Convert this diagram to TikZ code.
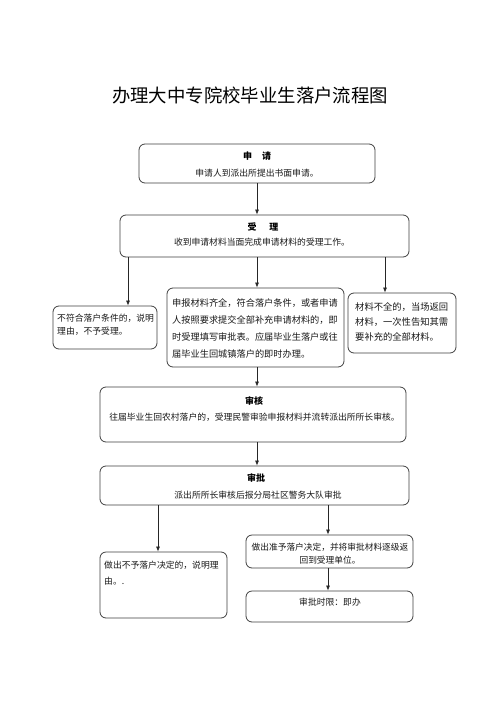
\documentclass[tikz,border=0pt]{standalone}
\usepackage{fontspec}
\setmainfont{Noto Sans CJK SC}
\usetikzlibrary{arrows.meta}
\begin{document}
\begin{tikzpicture}[x=1pt,y=-1pt,
  box/.style={draw=black!75, line width=0.8pt, rounded corners=6pt, inner sep=0pt, fill=white},
  arr/.style={draw=black!85, line width=0.7pt, -{Latex[length=5pt,width=4pt]}},
  txt/.style={inner sep=0pt, font=\fontsize{8.8}{14}\selectfont, text=black!90},
  ttl/.style={inner sep=0pt, font=\fontsize{9}{11}\selectfont\bfseries}]
\useasboundingbox[fill=white] (0,0) rectangle (500,707);

% title
\node[inner sep=0pt, font=\fontsize{18.4}{20}\selectfont] (title) at (250,95) {办理大中专院校毕业生落户流程图};

% boxes
\node[box, minimum width=236pt, minimum height=39pt] (sq) at (257,163.5) {};
\node[box, minimum width=289pt, minimum height=42pt] (sl) at (264.5,236) {};
\node[box, minimum width=104pt, minimum height=43pt] (lb) at (105,327.5) {};
\node[box, minimum width=177pt, minimum height=79pt] (mb) at (255.5,327.5) {};
\node[box, minimum width=108pt, minimum height=60pt] (rb) at (402,323) {};
\node[box, minimum width=306pt, minimum height=55pt] (sh) at (253,414.5) {};
\node[box, minimum width=309pt, minimum height=39pt] (sp) at (254.5,485.5) {};
\node[box, minimum width=127pt, minimum height=66pt] (bl) at (163.5,585) {};
\node[box, minimum width=167pt, minimum height=33pt] (br1) at (329.5,551.5) {};
\node[box, minimum width=167pt, minimum height=31pt] (br2) at (329.5,606.5) {};

% texts
\node[ttl] (sqT) at (257,156) {申\hspace{10pt}请};
\node[txt] (sqB) at (257,173) {申请人到派出所提出书面申请。};
\node[ttl] (slT) at (263,227) {受\hspace{13pt}理};
\node[txt] (slB) at (262,242) {收到申请材料当面完成申请材料的受理工作。};
\node[txt, anchor=north west, align=left, font=\fontsize{8.8}{13.5}\selectfont] (lbB) at (57,313.5) {不符合落户条件的，说明\\理由，不予受理。};
\node[txt, anchor=north west, align=left, font=\fontsize{9.2}{17}\selectfont] (mbB) at (172,298.5) {申报材料齐全，符合落户条件，或者申请\\人按照要求提交全部补充申请材料的，即\\时受理填写审批表。应届毕业生落户或往\\届毕业生回城镇落户的即时办理。};
\node[txt, anchor=north west, align=left, font=\fontsize{9.3}{15}\selectfont] (rbB) at (355,302) {材料不全的，当场返回\\材料，一次性告知其需\\要补充的全部材料。};
\node[ttl] (shT) at (254,401.5) {审核};
\node[txt] (shB) at (254.5,417) {往届毕业生回农村落户的，受理民警审验申报材料并流转派出所所长审核。};
\node[ttl] (spT) at (256,478) {审批};
\node[txt] (spB) at (258,495) {派出所所长审核后报分局社区警务大队审批};
\node[txt, anchor=north west, align=left, font=\fontsize{8.8}{16}\selectfont] (blB) at (104,560.5) {做出不予落户决定的，说明理\\由。.};
\node[txt, align=center, font=\fontsize{8.7}{13.5}\selectfont, anchor=north] (br1B) at (330,542.5) {做出准予落户决定，并将审批材料逐级返\\回到受理单位。};
\node[txt] (br2B) at (330,602) {审批时限：即办};

% connectors
\coordinate (c1) at (257,0);
\coordinate (cL) at (128,0);
\coordinate (cR) at (385,0);
\coordinate (cBL) at (158,0);
\coordinate (cBR) at (328,0);
\draw[arr] (sq.south -| c1) -- (sl.north -| c1);
\draw[arr] (sl.south -| cL) -- (lb.north -| cL);
\draw[arr] (sl.south -| c1) -- (mb.north -| c1);
\draw[arr] (sl.south -| cR) -- (rb.north -| cR);
\draw[arr] (mb.south -| c1) -- (sh.north -| c1);
\draw[arr] (sh.south -| c1) -- (sp.north -| c1);
\draw[arr] (sp.south -| cBL) -- (bl.north -| cBL);
\draw[arr] (sp.south -| cBR) -- (br1.north -| cBR);
\draw[arr] (br1.south -| cBR) -- (br2.north -| cBR);
\end{tikzpicture}
\end{document}
